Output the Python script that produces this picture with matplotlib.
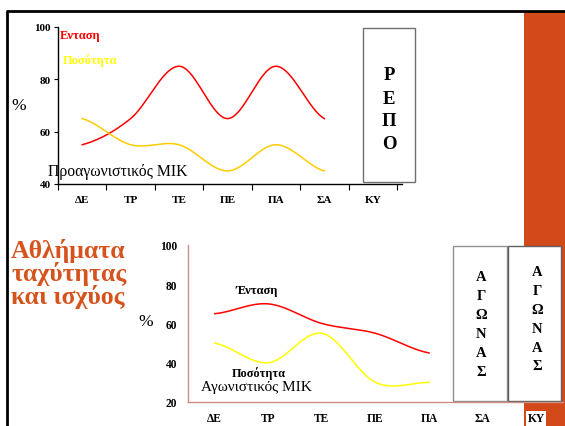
import numpy as np
import matplotlib
matplotlib.use('Agg')
import matplotlib.pyplot as plt
from matplotlib.patches import Rectangle

plt.rcParams['font.family'] = ['Liberation Serif', 'DejaVu Serif']

# data
days = ['ΔΕ', 'ΤΡ', 'ΤΕ', 'ΠΕ', 'ΠΑ', 'ΣΑ', 'ΚΥ']
pre_intensity = [55, 65, 85, 65, 85, 65]
pre_volume = [65, 55, 55, 45, 55, 45]
comp_intensity = [65, 70, 60, 55, 45]
comp_volume = [50, 40, 55, 30, 30]
pre_yticks = [40, 60, 80, 100]
comp_yticks = [20, 40, 60, 80, 100]

ORANGE = '#D34A1A'
W, H = 565, 427


def smooth(vals, n=40):
    # excel style smoothed line (catmull-rom through the points)
    v = np.asarray(vals, dtype=float)
    p = np.r_[v[0], v, v[-1]]
    xs, ys = [], []
    t = np.linspace(0, 1, n)
    for i in range(len(v) - 1):
        p0, p1, p2, p3 = p[i], p[i + 1], p[i + 2], p[i + 3]
        y = 0.5 * (2 * p1 + (-p0 + p2) * t + (2 * p0 - 5 * p1 + 4 * p2 - p3) * t ** 2
                   + (-p0 + 3 * p1 - 3 * p2 + p3) * t ** 3)
        xs.append(i + t)
        ys.append(y)
    return np.concatenate(xs), np.concatenate(ys)


def frac(x0, y0, x1, y1):
    return [x0 / W, 1 - y1 / H, (x1 - x0) / W, (y1 - y0) / H]


fig = plt.figure(figsize=(5.65, 4.27), dpi=100)

bg = fig.add_axes([0, 0, 1, 1], zorder=0)
bg.set_xlim(0, W)
bg.set_ylim(H, 0)
bg.axis('off')

# slide decorations
bg.add_patch(Rectangle((524, 13), 41, 414, color=ORANGE, lw=0))
bg.plot([6, 565], [12, 12], color='black', lw=2, solid_capstyle='butt')
bg.plot([7, 7], [12, 427], color='black', lw=2, solid_capstyle='butt')

# rest / competition boxes
bg.add_patch(Rectangle((363, 29), 52, 154, fc='white', ec='#707070', lw=1))
for i, ch in enumerate('ΡΕΠΟ'):
    bg.text(389, 76 + i * 23, ch, ha='center', va='center', fontsize=13.5, fontweight='bold')

bg.add_patch(Rectangle((453, 247), 54, 155, fc='white', ec='#909090', lw=1))
bg.add_patch(Rectangle((508, 247), 53, 155, fc='white', ec='#606060', lw=1))
for i, ch in enumerate('ΑΓΩΝΑΣ'):
    bg.text(481, 278 + i * 19, ch, ha='center', va='center', fontsize=10.5, fontweight='bold')
    bg.text(537, 273 + i * 18.8, ch, ha='center', va='center', fontsize=10.5, fontweight='bold')

bg.text(11, 274, 'Αθλήματα\nταχύτητας\nκαι ισχύος', ha='left', va='center',
        fontsize=18.5, fontweight='bold', color='#D5541E', linespacing=0.95)

bg.text(19, 106, '%', ha='center', va='center', fontsize=12.5)
bg.text(146, 322, '%', ha='center', va='center', fontsize=12.5)

# top chart: pre-competition microcycle
ax1 = fig.add_axes(frac(58, 28, 397, 185), zorder=1)
ax1.patch.set_alpha(0)
x, y = smooth(pre_intensity)
ax1.plot(x, y, color='#FF0000', lw=1.1)
x, y = smooth(pre_volume)
ax1.plot(x, y, color='#FFCC00', lw=1.1)
ax1.set_xlim(-0.5, 6.5)
ax1.set_ylim(40, 100)
ax1.set_yticks(pre_yticks)
ax1.set_xticks(range(len(days)))
ax1.set_xticklabels(days)
ax1.set_xticks(np.arange(-0.5, 7, 1), minor=True)
ax1.tick_params(axis='x', which='major', length=0, pad=8)
ax1.tick_params(axis='x', which='minor', length=4, width=0.8)
ax1.tick_params(axis='y', length=3, width=0.8, pad=2)
for lab in ax1.get_xticklabels() + ax1.get_yticklabels():
    lab.set_fontweight('bold')
    lab.set_fontsize(8)
for s in ['top', 'right']:
    ax1.spines[s].set_visible(False)
for s in ['left', 'bottom']:
    ax1.spines[s].set_linewidth(1)
ax1.spines['bottom'].set_bounds(-0.5, 6.6)

bg.text(60, 36, 'Ενταση', color='#FF0000', fontsize=9, fontweight='bold', va='center')
bg.text(63, 61, 'Ποσότητα', color='#FFFF00', fontsize=9, fontweight='bold', va='center')
bg.text(48, 172, 'Προαγωνιστικός ΜΙΚ', fontsize=11.3, va='center', zorder=3)

# bottom chart: competition microcycle
ax2 = fig.add_axes(frac(188, 246, 563, 403), zorder=1)
ax2.patch.set_alpha(0)
x, y = smooth(comp_intensity)
ax2.plot(x, y, color='#FF0000', lw=1.1)
x, y = smooth(comp_volume)
ax2.plot(x, y, color='#FFFF00', lw=1.1)
ax2.set_xlim(-0.5, 6.5)
ax2.set_ylim(20, 100)
ax2.set_yticks(comp_yticks)
ax2.set_xticks(range(len(days)))
ax2.set_xticklabels(days)
ax2.tick_params(length=0)
ax2.tick_params(axis='x', pad=7.5)
ax2.tick_params(axis='y', pad=8)
for lab in ax2.get_xticklabels() + ax2.get_yticklabels():
    lab.set_fontweight('bold')
    lab.set_fontsize(8.3)
ax2.get_xticklabels()[-1].set_bbox(dict(fc='white', ec='none', pad=1))
for s in ['top', 'right']:
    ax2.spines[s].set_visible(False)
for s in ['left', 'bottom']:
    ax2.spines[s].set_color('#C89088')
    ax2.spines[s].set_linewidth(1)

bg.text(257, 291, 'Ένταση', fontsize=9, fontweight='bold', ha='center', va='center')
bg.text(259, 374, 'Ποσότητα', fontsize=8.8, fontweight='bold', ha='center', va='center')
bg.text(256, 388, 'Αγωνιστικός ΜΙΚ', fontsize=11, ha='center', va='center', zorder=3)

fig.savefig('out.png', dpi=100)
